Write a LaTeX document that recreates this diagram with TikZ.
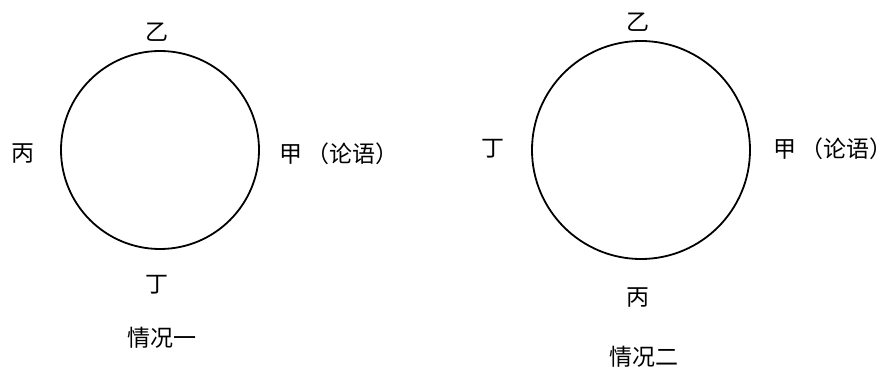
\documentclass[tikz,border=0pt]{standalone}
\usepackage{fontspec}
\newfontfamily\cjk{Noto Sans CJK SC}
\tikzset{lbl/.style={font=\cjk\fontsize{23}{27}\selectfont, inner sep=0pt}}

\begin{document}
\begin{tikzpicture}[x=1pt,y=-1pt]
\useasboundingbox (0,0) rectangle (896,374);
% situation one
\draw[line width=1.8pt] (160,150) circle (99);
\node[lbl] (yiA) at (157,32) {乙};
\node[lbl] (bingA) at (23,154) {丙};
\node[lbl, anchor=west] (jiaA) at (279,154) {甲\hspace{0.2em}（论语）};
\node[lbl] (dingA) at (157,285) {丁};
\node[lbl] (capA) at (162,338) {情况一};
% situation two
\draw[line width=1.8pt] (641,150) circle (109);
\node[lbl] (yiB) at (638,22) {乙};
\node[lbl] (dingB) at (493,149) {丁};
\node[lbl, anchor=west] (jiaB) at (773,149) {甲\hspace{0.2em}（论语）};
\node[lbl] (bingB) at (638,298) {丙};
\node[lbl] (capB) at (644,357) {情况二};
\end{tikzpicture}
\end{document}
